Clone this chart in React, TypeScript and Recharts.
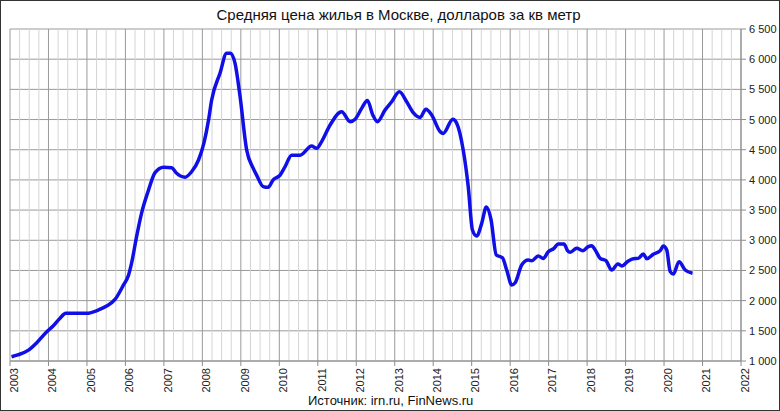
import { LineChart, Line, XAxis, YAxis, CartesianGrid, ReferenceLine } from 'recharts';

const yearTicks = [2003, 2004, 2005, 2006, 2007, 2008, 2009, 2010, 2011, 2012, 2013, 2014, 2015, 2016, 2017, 2018, 2019, 2020, 2021, 2022];
const priceTicks = [1000, 1500, 2000, 2500, 3000, 3500, 4000, 4500, 5000, 5500, 6000, 6500];

// moments in time (fractional years) and price, USD per sq m
const pointYears = [
  2003.04, 2003.2, 2003.48, 2003.69, 2003.95, 2004.12, 2004.3, 2004.45, 2004.99, 2005.3,
  2005.51, 2005.73, 2005.95, 2006.08, 2006.16, 2006.29, 2006.42, 2006.6, 2006.77, 2006.99,
  2007.2, 2007.33, 2007.55, 2007.72, 2007.9, 2008.04, 2008.16, 2008.24, 2008.46, 2008.63,
  2008.73, 2008.85, 2008.98, 2009.15, 2009.32, 2009.41, 2009.58, 2009.71, 2009.84, 2010.02,
  2010.15, 2010.32, 2010.54, 2010.84, 2010.97, 2011.1, 2011.32, 2011.62, 2011.84, 2011.97,
  2012.14, 2012.29, 2012.43, 2012.55, 2012.75, 2012.92, 2013.12, 2013.31, 2013.48, 2013.66,
  2013.81, 2013.96, 2014.18, 2014.26, 2014.51, 2014.61, 2014.78, 2014.91, 2015.02, 2015.13,
  2015.26, 2015.38, 2015.5, 2015.64, 2015.8, 2015.91, 2016.04, 2016.13, 2016.3, 2016.47,
  2016.56, 2016.73, 2016.86, 2016.99, 2017.14, 2017.25, 2017.4, 2017.49, 2017.56, 2017.73,
  2017.89, 2018.03, 2018.12, 2018.21, 2018.34, 2018.49, 2018.64, 2018.8, 2018.9, 2019.07,
  2019.2, 2019.33, 2019.46, 2019.55, 2019.72, 2019.9, 2019.98, 2020.07, 2020.16, 2020.24,
  2020.39, 2020.55, 2020.74,
];
const pointPrices = [
  1070, 1100, 1180, 1300, 1480, 1580, 1710, 1790, 1790, 1845,
  1910, 2020, 2260, 2420, 2620, 3060, 3450, 3830, 4120, 4210,
  4200, 4110, 4045, 4135, 4330, 4610, 4990, 5320, 5770, 6100,
  6100, 5930, 5380, 4500, 4195, 4080, 3890, 3877, 4000, 4080,
  4220, 4410, 4410, 4560, 4525, 4635, 4910, 5130, 4965, 5005,
  5185, 5315, 5075, 4965, 5160, 5295, 5460, 5295, 5115, 5035,
  5170, 5075, 4800, 4770, 5005, 4940, 4495, 3890, 3170, 3070,
  3280, 3550, 3350, 2756, 2710, 2507, 2260, 2297, 2590, 2673,
  2660, 2740, 2700, 2810, 2867, 2938, 2938, 2828, 2800, 2867,
  2828, 2894, 2911, 2839, 2701, 2662, 2507, 2607, 2574, 2657,
  2695, 2700, 2773, 2695, 2768, 2828, 2906, 2839, 2480, 2441,
  2645, 2507, 2453,
];

const data = pointYears.map((year, i) => ({ year, price: pointPrices[i] }));

// quarter lines between the yearly grid lines
const minorTicks = yearTicks.slice(0, -1).flatMap((y) => [y + 0.25, y + 0.5, y + 0.75]);

const font = '"Liberation Sans", Arial, sans-serif';

const fmt = (v: number) => String(v).replace(/\B(?=(\d{3})+(?!\d))/g, ' ');

const renderPriceTick = (props: any) => {
  const { x, y, payload } = props;
  return (
    <text
      key={payload.value}
      x={x}
      y={y}
      textAnchor="start"
      dy="0.36em"
      fontSize={11}
      fill="#222"
      fontFamily={font}
    >
      {fmt(payload.value)}
    </text>
  );
};

export default function App() {
  return (
    <div
      style={{
        position: 'absolute', left: 0, top: 0, width: 780, height: 411,
        boxSizing: 'border-box', border: '1px solid #333', background: '#fff',
        fontFamily: font,
      }}
    >
      <div style={{ position: 'absolute', left: -1, top: -1 }}>
        <LineChart
          width={780}
          height={411}
          data={data}
          margin={{ top: 29, right: 9, left: 10, bottom: 10 }}
          style={{ fontFamily: font }}
        >
          <CartesianGrid stroke="#9a9a9a" strokeWidth={1} />
          {minorTicks.map((q) => (
            <ReferenceLine key={q} x={q} stroke="#d4d4d4" strokeWidth={1} />
          ))}
          <XAxis
            dataKey="year"
            type="number"
            domain={[2003, 2022]}
            ticks={yearTicks}
            interval={0}
            height={40}
            tickSize={5}
            tickMargin={2}
            angle={-90}
            textAnchor="end"
            tick={{ fill: '#222', fontSize: 11, fontFamily: font, verticalAnchor: 'middle' }}
            stroke="#8c8c8c"
            allowDataOverflow
          />
          <YAxis
            orientation="right"
            domain={[1000, 6500]}
            ticks={priceTicks}
            interval={0}
            width={30}
            tickSize={5}
            tickMargin={3}
            tick={renderPriceTick}
            stroke="#8c8c8c"
          />
          <Line
            type="monotone"
            dataKey="price"
            stroke="#1010e6"
            strokeWidth={3.5}
            dot={false}
            isAnimationActive={false}
          />
        </LineChart>
      </div>
      <div
        style={{
          position: 'absolute', left: 0, top: 5, width: 795, textAlign: 'center',
          fontSize: 15, color: '#111',
        }}
      >
        Средняя цена жилья в Москве, долларов за кв метр
      </div>
      <div
        style={{
          position: 'absolute', left: 307, top: 392, fontSize: 13, color: '#111',
        }}
      >
        Источник: irn.ru, FinNews.ru
      </div>
    </div>
  );
}
